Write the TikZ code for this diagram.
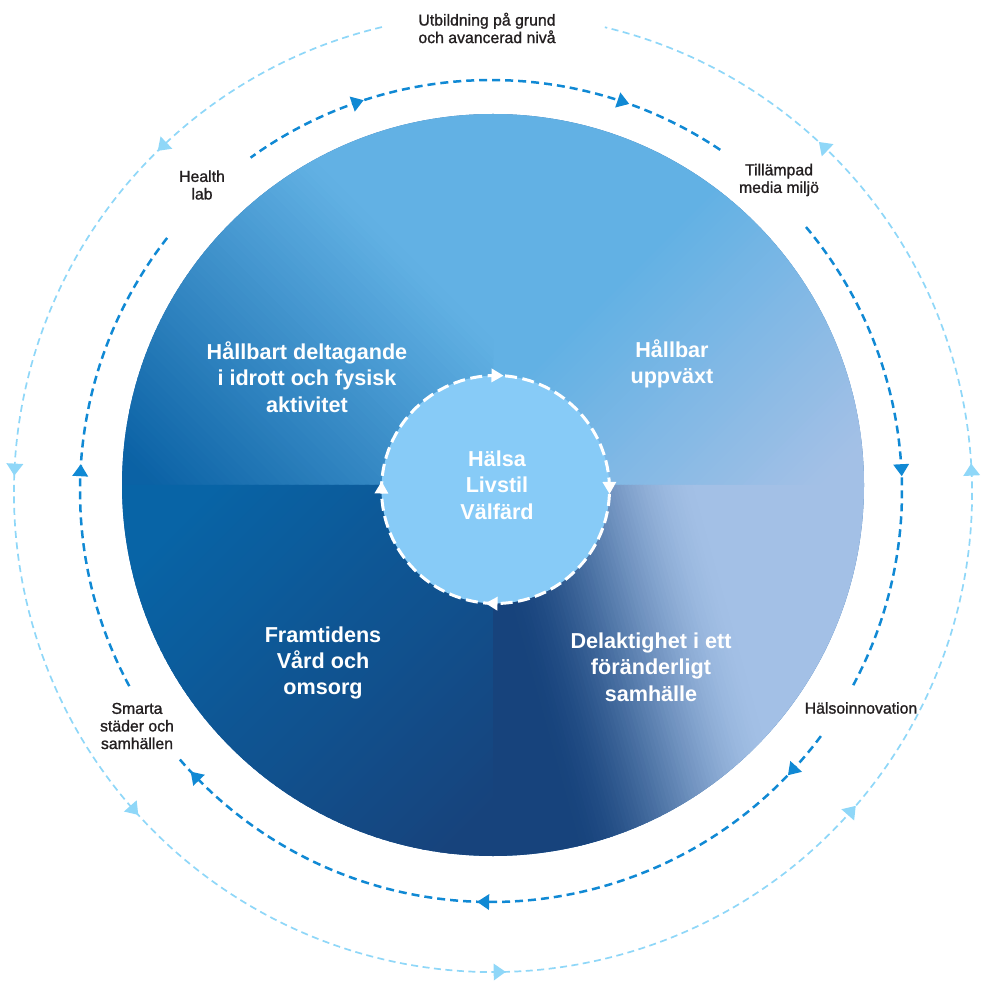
\documentclass[tikz,border=0pt]{standalone}
\usepackage{fontspec}
\setmainfont{Liberation Sans}
\newfontfamily\smallfont[FakeBold=1.2]{Liberation Sans}
\definecolor{lightblue}{HTML}{62B1E4}
\definecolor{tlDark}{HTML}{0B62A5}
\definecolor{peri}{HTML}{A3C0E6}
\definecolor{blDark}{HTML}{0864A6}
\definecolor{navy}{HTML}{17437C}
\definecolor{coreblue}{HTML}{87CBF7}
\definecolor{midring}{HTML}{1089D4}
\definecolor{outerring}{HTML}{8FD7F8}
\definecolor{labelgray}{HTML}{231F20}
\definecolor{diskbase}{HTML}{2F6FAE}

% linear colour band: #1 direction angle, #2 start, #3 end, #4 start colour, #5 end colour, #6 easing (0 linear, 1 smooth)
\newcommand\gradband[6]{%
  \begin{scope}[rotate=#1]
    \fill[#4] ({#2-3000},-3000) rectangle ({#2+1},3000);
    \fill[#5] ({#3},-3000) rectangle ({#3+3000},3000);
    \foreach \k in {0,...,59}{%
      \pgfmathsetmacro\pa{#2+(#3-#2)/60*\k}%
      \pgfmathsetmacro\pb{#2+(#3-#2)/60*(\k+1.4)}%
      \pgfmathsetmacro\tq{(\k+0.5)/60}%
      \pgfmathsetmacro\pc{100*((#6)*(3*\tq*\tq-2*\tq*\tq*\tq)+(1-(#6))*\tq)}%
      \fill[#5!\pc!#4] (\pa,-3000) rectangle (\pb,3000);
    }
  \end{scope}}

% triangle on a ring: #1 centre, #2 radius, #3 angle, #4 sense (+1 ccw, -1 cw), #5 width, #6 length, #7 colour
\newcommand\ringtri[7]{%
  \fill[#7, shift={#1}, rotate=#3]
    ({#2-(#5)/2},{0-(#4)*(#6)/2}) -- ({#2+(#5)/2},{0-(#4)*(#6)/2}) -- (#2,{(#4)*(#6)/2}) -- cycle;}

\tikzset{
  mainlab/.style={text=white, font=\bfseries\fontsize{12.3}{15}\selectfont, align=center, inner sep=0pt},
  smalllab/.style={text=labelgray, font=\smallfont\fontsize{9}{10}\selectfont, align=center, inner sep=0pt},
  midarc/.style={draw=midring, line width=0.05cm, dash pattern=on 0.16cm off 0.1cm},
  outerarc/.style={draw=outerring, line width=0.034cm, dash pattern=on 0.14cm off 0.09cm},
  corering/.style={draw=white, line width=0.06cm, dash pattern=on 0.24cm off 0.11cm}
}

\begin{document}
\begin{tikzpicture}[x=0.02cm, y=0.02cm]
\useasboundingbox (0,0) rectangle (990,988);

% ---- main disk ----
\fill[diskbase] (493,503) circle[radius=371];
% top-right quadrant
\begin{scope}
  \clip (493,503) -- ++(0:371) arc[start angle=0, end angle=90, radius=371] -- cycle;
  \gradband{-45}{-62}{221}{lightblue}{peri}{0}
\end{scope}
% top-left quadrant
\begin{scope}
  \clip (493,503) -- ++(90:371) arc[start angle=90, end angle=180, radius=371] -- cycle;
  \gradband{45}{465}{805}{tlDark}{lightblue}{0}
\end{scope}
% bottom-left quadrant
\begin{scope}
  \clip (493,503) -- ++(180:371) arc[start angle=180, end angle=270, radius=371] -- cycle;
  \gradband{-45}{-204}{221}{blDark}{navy}{0}
\end{scope}
% bottom-right quadrant
\begin{scope}
  \clip (493,503) -- ++(270:371) arc[start angle=270, end angle=360, radius=371] -- cycle;
  \gradband{15.7}{590}{810}{navy}{peri}{1}
\end{scope}

% ---- core circle ----
\fill[coreblue] (495.5,498.5) circle[radius=114];
\draw[corering] (495.5,498.5) circle[radius=114];
\ringtri{(495.5,498.5)}{114}{89}{-1}{14}{12}{white}
\ringtri{(495.5,498.5)}{114}{0.8}{-1}{14}{12}{white}
\ringtri{(495.5,498.5)}{114}{268}{-1}{14}{12}{white}
\ringtri{(495.5,498.5)}{114}{179}{-1}{14}{12}{white}

% ---- middle ring (clockwise) ----
\draw[midarc] (491,497) ++(56.1:411) arc[start angle=56.1, end angle=125.8, radius=411];
\draw[midarc] (491,497) ++(-28.2:411) arc[start angle=-28.2, end angle=40.3, radius=411];
\draw[midarc] (491,497) ++(220.8:411) arc[start angle=220.8, end angle=323.4, radius=411];
\draw[midarc] (491,497) ++(142:411) arc[start angle=142, end angle=208.6, radius=411];
\foreach \a in {108.9,71.2,2.9,-42.9,-91.1,-136.1,177.1}{
  \ringtri{(491,497)}{411}{\a}{-1}{16}{12}{midring}
}

% ---- outer ring (counter-clockwise) ----
\draw[outerarc] (493,495) ++(103.4:479) arc[start angle=103.4, end angle=436.5, radius=479];
\foreach \a in {133.7,177.2,221.5,270.8,318.5,2.8,46.4}{
  \ringtri{(493,495)}{479}{\a}{1}{17}{12}{outerring}
}

% ---- labels ----
\node[mainlab] (core) at (497,503) {Hälsa\\Livstil\\Välfärd};
\node[mainlab] (sport) at (307,611) {Hållbart deltagande\\i idrott och fysisk\\aktivitet};
\node[mainlab] (grow) at (672,624) {Hållbar\\uppväxt};
\node[mainlab] (care) at (323,325) {Framtidens\\Vård och\\omsorg};
\node[mainlab] (part) at (651,321) {Delaktighet i ett\\föränderligt\\samhälle};

\node[smalllab] (edu) at (487,960) {Utbildning på grund\\och avancerad nivå};
\node[smalllab] (health) at (202,803) {Health\\lab};
\node[smalllab] (media) at (779,808) {Tillämpad\\media miljö};
\node[smalllab] (smart) at (137,262) {Smarta\\städer och\\samhällen};
\node[smalllab] (innov) at (861,280) {Hälsoinnovation};
\end{tikzpicture}
\end{document}
